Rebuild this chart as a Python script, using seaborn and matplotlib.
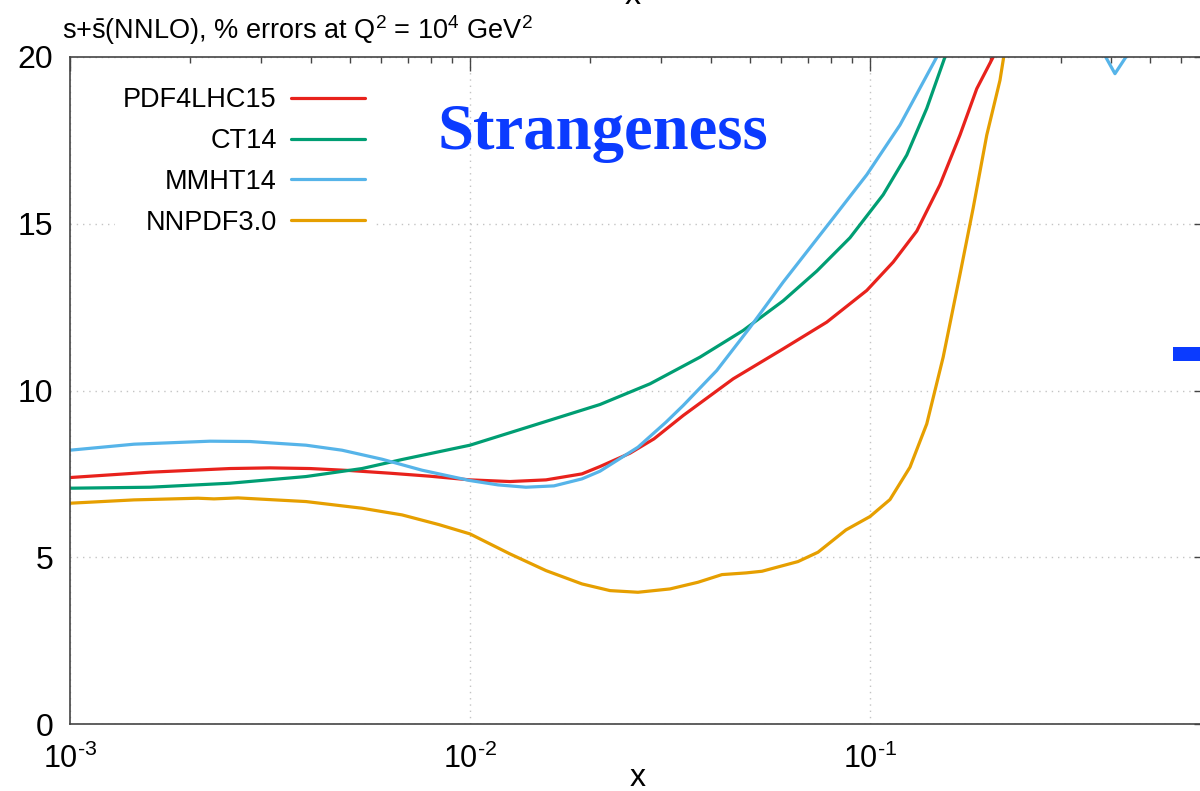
import numpy as np
import pandas as pd
import matplotlib
matplotlib.use("Agg")
import matplotlib.pyplot as plt
from matplotlib.patches import Rectangle
from matplotlib.ticker import LogLocator, NullFormatter, NullLocator
import seaborn as sns

sns.set_theme(style="white")
plt.rcParams["font.family"] = ["Liberation Sans", "DejaVu Sans"]
plt.rcParams["mathtext.fontset"] = "custom"
plt.rcParams["mathtext.rm"] = "Liberation Sans"
plt.rcParams["mathtext.it"] = "Liberation Sans:italic"
plt.rcParams["mathtext.bf"] = "Liberation Sans:bold"
plt.rcParams["text.color"] = "black"
plt.rcParams["xtick.color"] = "black"
plt.rcParams["ytick.color"] = "black"
plt.rcParams["lines.solid_joinstyle"] = "round"

# PDF sets and their line colours
pdf_sets = ["PDF4LHC15", "CT14", "MMHT14", "NNPDF3.0"]
set_colors = ["#E8221C", "#009E73", "#56B4E9", "#E69F00"]

# log10(x) sampling points and % uncertainty of s+sbar at Q^2 = 1e4 GeV^2
log_x_pdf4lhc = [-3.0, -2.8, -2.6, -2.5, -2.4, -2.3, -2.2, -2.1, -2.0, -1.9,
                 -1.81, -1.72, -1.675, -1.6, -1.54, -1.467, -1.342, -1.217,
                 -1.108, -1.008, -0.942, -0.883, -0.825, -0.775, -0.733,
                 -0.692, -0.6, -0.4, -0.155]
err_pdf4lhc = [7.39, 7.55, 7.66, 7.68, 7.66, 7.60, 7.52, 7.43, 7.32, 7.27,
               7.32, 7.50, 7.72, 8.12, 8.55, 9.25, 10.35, 11.25,
               12.05, 13.0, 13.85, 14.78, 16.17, 17.66, 19.05,
               20.0, 23.5, 32.0, 45.0]

log_x_ct14 = [-3.0, -2.8, -2.6, -2.41, -2.27, -2.17, -2.0, -1.84, -1.675,
              -1.55, -1.425, -1.317, -1.217, -1.133, -1.05, -0.967, -0.908,
              -0.858, -0.8125, -0.7, -0.4, -0.155]
err_ct14 = [7.07, 7.10, 7.22, 7.42, 7.66, 7.93, 8.36, 8.96, 9.58,
            10.2, 11.0, 11.8, 12.69, 13.58, 14.58, 15.87, 17.06,
            18.46, 20.0, 24.0, 35.0, 50.0]

log_x_mmht14 = [-3.0, -2.84, -2.65, -2.55, -2.41, -2.32, -2.22, -2.12, -2.0,
                -1.93, -1.86, -1.79, -1.72, -1.675, -1.58, -1.51, -1.467,
                -1.383, -1.30, -1.217, -1.092, -1.008, -0.925, -0.833,
                -0.75, -0.6, -0.48, -0.3875, -0.30, -0.155]
err_mmht14 = [8.21, 8.39, 8.48, 8.47, 8.36, 8.21, 7.94, 7.61, 7.30,
              7.17, 7.10, 7.14, 7.35, 7.58, 8.30, 9.05, 9.55,
              10.6, 11.89, 13.25, 15.17, 16.47, 17.96, 20.0,
              22.5, 25.0, 21.5, 19.5, 21.1, 24.0]

log_x_nnpdf30 = [-3.0, -2.84, -2.68, -2.64, -2.58, -2.41, -2.27, -2.17, -2.078,
                 -2.0, -1.90, -1.81, -1.72, -1.65, -1.58, -1.50, -1.43, -1.37,
                 -1.31, -1.27, -1.18, -1.13, -1.06, -1.0, -0.95, -0.90, -0.858,
                 -0.817, -0.775, -0.742, -0.708, -0.675, -0.655, -0.6, -0.4,
                 -0.155]
err_nnpdf30 = [6.62, 6.72, 6.77, 6.75, 6.78, 6.67, 6.47, 6.27, 5.98,
               5.70, 5.10, 4.60, 4.20, 4.00, 3.95, 4.05, 4.25, 4.48,
               4.53, 4.58, 4.87, 5.15, 5.82, 6.22, 6.73, 7.70, 9.0,
               11.0, 13.48, 15.47, 17.66, 19.3, 20.8, 25.0, 40.0,
               60.0]

y_ticks = [0, 5, 10, 15, 20]
x_ticks = [1e-3, 1e-2, 1e-1]
x_tick_labels = [r"10$^{\text{-}3}$", r"10$^{\text{-}2}$", r"10$^{\text{-}1}$"]

series = [(log_x_pdf4lhc, err_pdf4lhc), (log_x_ct14, err_ct14),
          (log_x_mmht14, err_mmht14), (log_x_nnpdf30, err_nnpdf30)]
frames = []
for name, (lx, err) in zip(pdf_sets, series):
    frames.append(pd.DataFrame({"x": 10.0 ** np.asarray(lx), "err": err, "set": name}))
df = pd.concat(frames, ignore_index=True)

W, H = 1200, 791
fig = plt.figure(figsize=(W / 100, H / 100), dpi=100)
fig.patch.set_facecolor("white")
ax = fig.add_axes([70 / W, (H - 724) / H, 1138 / W, 667 / H])
ax.set_xscale("log")

sns.lineplot(data=df, x="x", y="err", hue="set", hue_order=pdf_sets,
             palette=set_colors, estimator=None, sort=False, linewidth=2.3,
             legend=False, ax=ax)

ax.set_xlim(1e-3, 0.7)
ax.set_ylim(0, 20)
ax.set_yticks(y_ticks)
ax.set_xticks(x_ticks, x_tick_labels)
ax.xaxis.set_minor_locator(LogLocator(base=10, subs=np.arange(2, 10)))
ax.xaxis.set_minor_formatter(NullFormatter())
ax.yaxis.set_minor_locator(NullLocator())

ax.tick_params(which="both", direction="in", top=True, right=True,
               color="#444444", width=1.0, labelcolor="black")
ax.tick_params(which="major", length=10)
ax.tick_params(which="minor", length=4.5)
ax.tick_params(axis="y", pad=12, labelsize=23)
ax.tick_params(axis="x", pad=14, labelsize=22)
ax.grid(True, which="major", linestyle=(0, (1, 3.5)), color="#c4c4c4", linewidth=1.0)
for s in ax.spines.values():
    s.set_color("#444444")
    s.set_linewidth(1.2)

ax.set_xlabel("x", fontsize=23, color="black")
ax.xaxis.set_label_coords(0.499, -0.059)
ax.set_ylabel("")

handles = ax.get_lines()[:len(pdf_sets)]
ax.legend(handles, pdf_sets, loc="upper right",
          bbox_to_anchor=(373 / W, 1 - 79 / H), bbox_transform=fig.transFigure,
          markerfirst=False, frameon=True, fancybox=False, edgecolor="none",
          facecolor="white", framealpha=1, fontsize=19.5, handlelength=2.73,
          handletextpad=0.52, labelspacing=0.55, borderpad=0.3, borderaxespad=0)

fig.text(62 / W, 1 - 39 / H,
         r"s+$\bar{\mathrm{s}}$(NNLO), % errors at Q$^2$ = 10$^4$ GeV$^2$",
         fontsize=19.5, ha="left", va="baseline")
fig.text(437 / W, 1 - 149 / H, "Strangeness", fontsize=46.5, fontweight="bold",
         family="Liberation Serif", color="#0B3BFF", ha="left", va="baseline")
fig.text(633 / W, 1 - 4 / H, "x", fontsize=23, ha="center", va="baseline")
fig.add_artist(Rectangle((1173 / W, 1 - 361 / H), 27 / W, 14 / H,
                         transform=fig.transFigure, color="#0B3BFF", lw=0))

fig.savefig("out.png", dpi=100)
